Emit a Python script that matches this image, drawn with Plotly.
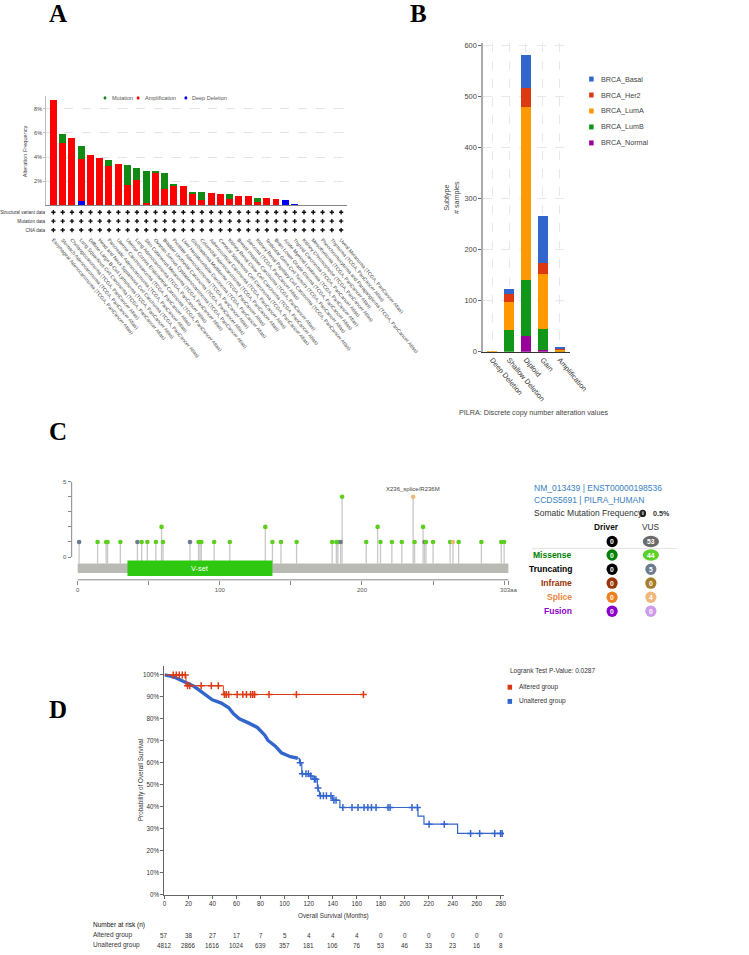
import plotly.graph_objects as go

W, H = 749, 955
FONT = "Liberation Sans, Arial, sans-serif"


def px(x):
    return x / W


def py(y):
    return 1 - y / H


# ---------------- Panel A data ----------------
cancer_types = [
    "Esophageal Adenocarcinoma (TCGA, PanCancer Atlas)",
    "Stomach Adenocarcinoma (TCGA, PanCancer Atlas)",
    "Cholangiocarcinoma (TCGA, PanCancer Atlas)",
    "Lung Squamous Cell Carcinoma (TCGA, PanCancer Atlas)",
    "Diffuse Large B-Cell Lymphoma (TCGA, PanCancer Atlas)",
    "Head and Neck Squamous Cell Carcinoma (TCGA, PanCancer Atlas)",
    "Pancreatic Adenocarcinoma (TCGA, PanCancer Atlas)",
    "Uterine Carcinosarcoma (TCGA, PanCancer Atlas)",
    "Uterine Corpus Endometrial Carcinoma (TCGA, PanCancer Atlas)",
    "Lung Adenocarcinoma (TCGA, PanCancer Atlas)",
    "Skin Cutaneous Melanoma (TCGA, PanCancer Atlas)",
    "Ovarian Serous Cystadenocarcinoma (TCGA, PanCancer Atlas)",
    "Bladder Urothelial Carcinoma (TCGA, PanCancer Atlas)",
    "Prostate Adenocarcinoma (TCGA, PanCancer Atlas)",
    "Liver Hepatocellular Carcinoma (TCGA, PanCancer Atlas)",
    "Glioblastoma Multiforme (TCGA, PanCancer Atlas)",
    "Colorectal Adenocarcinoma (TCGA, PanCancer Atlas)",
    "Adrenocortical Carcinoma (TCGA, PanCancer Atlas)",
    "Cervical Squamous Cell Carcinoma (TCGA, PanCancer Atlas)",
    "Kidney Renal Clear Cell Carcinoma (TCGA, PanCancer Atlas)",
    "Breast Invasive Carcinoma (TCGA, PanCancer Atlas)",
    "Sarcoma (TCGA, PanCancer Atlas)",
    "Kidney Renal Papillary Cell Carcinoma (TCGA, PanCancer Atlas)",
    "Testicular Germ Cell Tumors (TCGA, PanCancer Atlas)",
    "Brain Lower Grade Glioma (TCGA, PanCancer Atlas)",
    "Acute Myeloid Leukemia (TCGA, PanCancer Atlas)",
    "Thyroid Carcinoma (TCGA, PanCancer Atlas)",
    "Kidney Chromophobe (TCGA, PanCancer Atlas)",
    "Mesothelioma (TCGA, PanCancer Atlas)",
    "Pheochromocytoma and Paraganglioma (TCGA, PanCancer Atlas)",
    "Thymoma (TCGA, PanCancer Atlas)",
    "Uveal Melanoma (TCGA, PanCancer Atlas)",
]
deep_deletion = [0, 0, 0, 0.4, 0, 0, 0, 0, 0, 0, 0, 0, 0, 0, 0, 0,
                 0, 0, 0, 0, 0.08, 0, 0, 0, 0, 0.47, 0.17, 0, 0, 0, 0, 0]
amplification = [8.8, 5.2, 5.6, 3.5, 4.2, 4.0, 3.3, 3.5, 1.7, 2.1, 0.2, 2.74, 1.43, 1.62, 1.62, 1.0,
                 0.47, 1.08, 1.0, 0.57, 0.75, 0.77, 0.34, 0.66, 0.57, 0, 0, 0, 0, 0, 0, 0]
mutation = [0, 0.72, 0, 1.06, 0, 0, 0.5, 0, 1.68, 1.05, 2.7, 0.16, 1.25, 0.2, 0, 0.17,
            0.7, 0, 0, 0.37, 0, 0, 0.34, 0, 0, 0, 0, 0, 0, 0, 0, 0]
a_tick_vals = [2, 4, 6, 8]
a_tick_text = ["2%", "4%", "6%", "8%"]
profile_rows = ["CNA data", "Mutation data", "Structural variant data"]

# ---------------- Panel B data ----------------
cna_categories = ["Deep Deletion", "Shallow Deletion", "Diploid", "Gain", "Amplification"]
subtypes = ["BRCA_Normal", "BRCA_LumB", "BRCA_LumA", "BRCA_Her2", "BRCA_Basal"]
subtype_colors = ["#990099", "#109618", "#ff9900", "#dc3912", "#3366cc"]
brca_normal = [0, 0, 31, 4, 0]
brca_lumb = [0, 44, 110, 42, 1]
brca_luma = [1, 53, 338, 107, 3]
brca_her2 = [0, 16, 37, 22, 2]
brca_basal = [0, 11, 65, 92, 2]

# ---------------- Panel C data ----------------
mut_pos = [1, 14, 20, 21, 30, 42, 45, 49, 55, 59, 60, 79, 85, 86, 87, 96, 107, 132, 137, 143,
           154, 179, 182, 183, 185, 186, 203, 211, 213, 221, 228, 236, 237, 243, 244, 245,
           250, 262, 264, 268, 284, 298, 300]
mut_count = [1, 1, 1, 1, 1, 1, 1, 1, 1, 2, 1, 1, 1, 1, 1, 1, 1, 2, 1, 1,
             1, 1, 1, 1, 1, 4, 1, 2, 1, 1, 1, 4, 1, 2, 1, 1,
             1, 1, 1, 1, 1, 1, 1]
mut_type = ["T", "M", "M", "M", "M", "T", "M", "M", "M", "M", "M", "T", "M", "M", "M", "M", "M", "M", "M", "M",
            "M", "M", "M", "M", "T", "M", "M", "M", "M", "M", "M", "S", "M", "M", "T", "M",
            "M", "M", "S", "M", "M", "M", "M"]
type_colors = {"M": "#5ccf1c", "T": "#6e7b8e", "S": "#f0b87b"}
protein_length = 303
domain_name = "V-set"
domain_start = 35
domain_end = 137
c_x_tick_vals = [0, 50, 100, 150, 200, 250, 300, 303]
c_x_tick_text = ["0", "", "100", "", "200", "", "", "303aa"]

mut_rows = ["Missense", "Truncating", "Inframe", "Splice", "Fusion"]
mut_row_colors = ["#008000", "#000000", "#993404", "#e8873a", "#8b00c9"]
driver_counts = [0, 0, 0, 0, 0]
vus_counts = [44, 5, 0, 4, 0]
driver_badge_colors = ["#008000", "#000000", "#993404", "#f07f1e", "#8b00c9"]
vus_badge_colors = ["#5dd12b", "#6e7b8e", "#a67d2a", "#f0b87b", "#cf9be8"]
driver_total = 0
vus_total = 53

# ---------------- Panel D data ----------------
unalt_dense_t = [0, 5, 9.8, 17.3, 24.8, 32.3, 39.8, 47.3, 53.5, 57.3, 62.3, 69.8, 77.3, 83.5, 86,
                 92.3, 97.3, 104.8, 111]
unalt_dense_s = [100, 99.5, 98.6, 96.6, 94.7, 91.7, 88.7, 87.2, 85.1, 82.4, 80.1, 78.2, 76.1, 72.6, 70.3,
                 67.6, 64.6, 62.8, 62.1]
unalt_step_t = [111, 112.3, 114.3, 121.5, 123.5, 127.3, 128, 129, 139.8, 146, 211, 216, 244, 281.8]
unalt_step_s = [62.1, 60.1, 55, 54, 52.6, 48.6, 47.2, 45, 43, 39.7, 35.8, 32.1, 27.9, 27.9]
unalt_censor_t = [113, 114.8, 117.8, 119.8, 121.8, 124.8, 126, 127.8, 129.8, 132.3, 134.8, 138.6,
                  141, 142.8, 148.5, 156.1, 161.1, 166.1, 169.3, 172.3, 176.1, 186.1, 187.8, 206,
                  210.5, 220.3, 232.9, 254.8, 262.4, 274.9, 279.8, 281.1]
alt_step_t = [0, 17.9, 49, 165.6]
alt_step_s = [100, 95.1, 91.1, 91.1]
alt_censor_t = [7.3, 9.8, 12.3, 14.8, 17.3, 19.2, 21.0, 30.5, 39.0, 44.8, 49.9, 51.4, 53.4, 60.5,
                65.2, 68.2, 71.7, 73.5, 75, 87, 109.8, 165.6]
risk_times = [0, 20, 40, 60, 80, 100, 120, 140, 160, 180, 200, 220, 240, 260, 280]
risk_altered = [57, 38, 27, 17, 7, 5, 4, 4, 4, 0, 0, 0, 0, 0, 0]
risk_unaltered = [4812, 2866, 1616, 1024, 639, 357, 181, 106, 76, 53, 46, 33, 23, 16, 8]
surv_tick_vals = [0, 10, 20, 30, 40, 50, 60, 70, 80, 90, 100]
surv_tick_text = ["0%", "10%", "20%", "30%", "40%", "50%", "60%", "70%", "80%", "90%", "100%"]
logrank_p = "0.0287"


def step_value(t, ts, ss):
    v = ss[0]
    for tt, s in zip(ts, ss):
        if tt <= t:
            v = s
    return v


fig = go.Figure()
annotations = []
shapes = []


def note(text, x, y, size, color="#333", xanchor="center", yanchor="middle", xref="paper", yref="paper",
         family=FONT, angle=0, **kw):
    if xref == "paper":
        x = px(x)
    if yref == "paper":
        y = py(y)
    annotations.append(dict(text=text, x=x, y=y, xref=xref, yref=yref, xanchor=xanchor, yanchor=yanchor,
                            showarrow=False, textangle=angle, font=dict(size=size, color=color, family=family),
                            **kw))


# ---------------- Panel A ----------------
idx = list(range(len(cancer_types)))
for vals, col in [(deep_deletion, "#0000ff"), (amplification, "#ff0000"), (mutation, "#138a13")]:
    fig.add_trace(go.Bar(x=idx, y=vals, marker=dict(color=col, line=dict(width=0)),
                         xaxis="x", yaxis="y", showlegend=False, width=0.75))
mx, my = [], []
for r in range(len(profile_rows)):
    for i in idx:
        mx.append(i)
        my.append(r)
fig.add_trace(go.Scatter(x=mx, y=my, mode="markers", xaxis="x2", yaxis="y2", showlegend=False,
                         marker=dict(symbol="cross", size=3.6, color="#111")))

note("Alteration Frequency", 25, 150, 5.6, "#444", angle=-90)
for lx, lab, col in [(114.3, "Mutation", "#138a13"), (151, "Amplification", "#ff0000"),
                     (204, "Deep Deletion", "#0000ff")]:
    shapes.append(dict(type="circle", xref="paper", yref="paper", x0=px(lx - 1.6), x1=px(lx + 1.6),
                       y0=py(95.7 + 1.6), y1=py(95.7 - 1.6), fillcolor=col, line=dict(width=0)))
    note(lab, lx + 5, 95.7, 5.5, "#555", xanchor="left")

# ---------------- Panel B ----------------
b_idx = list(range(len(cna_categories)))
for vals, col in zip([brca_normal, brca_lumb, brca_luma, brca_her2, brca_basal], subtype_colors):
    fig.add_trace(go.Bar(x=b_idx, y=vals, marker=dict(color=col, line=dict(width=0)), width=0.59,
                         xaxis="x3", yaxis="y3", showlegend=False))
legend_b = list(zip(subtypes, subtype_colors))[::-1]
for k, (name, col) in enumerate(legend_b):
    yy = 76.7 + 16.1 * k
    shapes.append(dict(type="rect", xref="paper", yref="paper", x0=px(651.5), x1=px(656.5),
                       y0=py(yy + 2.5), y1=py(yy - 2.5), fillcolor=col, line=dict(width=0)))
    note(name, 662.5, yy, 7.2, "#444", xanchor="left")
note("Subtype<br># samples", 499, 196, 7.2, "#444", angle=-90)
note("PILRA: Discrete copy number alteration values", 590, 413, 7.2, "#444")

# ---------------- Panel C ----------------
bar_top = -0.43
sx, sy = [], []
for p, c in zip(mut_pos, mut_count):
    sx += [p, p, None]
    sy += [bar_top, c, None]
fig.add_trace(go.Scatter(x=sx, y=sy, mode="lines", line=dict(color="#c8c8c8", width=1.3),
                         xaxis="x4", yaxis="y4", showlegend=False, hoverinfo="skip"))
fig.add_trace(go.Scatter(x=mut_pos, y=mut_count, mode="markers", xaxis="x4", yaxis="y4", showlegend=False,
                         marker=dict(size=4.6, color=[type_colors[t] for t in mut_type], line=dict(width=0))))
shapes.append(dict(type="rect", xref="x4", yref="y4", x0=0, x1=protein_length, y0=-1.05, y1=bar_top,
                   fillcolor="#babab5", line=dict(width=0), layer="above"))
shapes.append(dict(type="rect", xref="x4", yref="y4", x0=domain_start, x1=domain_end, y0=-1.25, y1=-0.22,
                   fillcolor="#2ec811", line=dict(width=0), layer="above"))
note(domain_name, (domain_start + domain_end) / 2, -0.74, 7.4, "white", xref="x4", yref="y4")
shapes.append(dict(type="line", xref="x4 domain", yref="y4", x0=0, x1=0, y0=0, y1=5,
                   line=dict(color="#888", width=1)))
shapes.append(dict(type="line", xref="x4", yref="y4 domain", x0=0, x1=protein_length, y0=0, y1=0,
                   line=dict(color="#888", width=1)))
splice_i = mut_pos.index(236)
note("X236_splice/R236M", 236, mut_count[splice_i], 6, "#444", yanchor="bottom", xref="x4", yref="y4",
     yshift=3)

blue_txt = "#3a80bf"
note("NM_013439 | ENST00000198536", 588, 489, 8.5, blue_txt, xanchor="left")
note("CCDS5691 | PILRA_HUMAN", 588, 501.7, 8.5, blue_txt, xanchor="left")
note("Somatic Mutation Frequency", 588, 514.7, 8.5, "#333", xanchor="left")
shapes.append(dict(type="circle", xref="paper", yref="paper", x0=px(707.3), x1=px(714.7),
                   y0=py(518.4), y1=py(511), fillcolor="#222", line=dict(width=0)))
note("<b>i</b>", 711, 514.7, 6, "white")
note("<b>0.5%</b>", 732, 514.7, 7.2, "#333")
note("<b>Driver</b>", 671, 528.7, 8.3, "#111")
note("VUS", 719.7, 528.7, 8.3, "#333")
shapes.append(dict(type="line", xref="paper", yref="paper", x0=px(588), x1=px(749), y0=py(550), y1=py(550),
                   line=dict(color="#e2e2e2", width=1)))


def badge(cx, cy, value, color, text_color="white"):
    wdt = 6.2 if value < 10 else 9.0
    shapes.append(dict(type="circle", xref="paper", yref="paper", x0=px(cx - wdt), x1=px(cx + wdt),
                       y0=py(cy + 5.8), y1=py(cy - 5.8), fillcolor=color, line=dict(width=0)))
    note("<b>%d</b>" % value, cx, cy, 6.8, text_color)


badge(677, 543, driver_total, "#000000")
badge(720, 543, vus_total, "#6b6b6b")
row_y = [556.7, 571, 585, 599.3, 613.3]
for k, name in enumerate(mut_rows):
    note("<b>%s</b>" % name, 635, row_y[k], 8.5, mut_row_colors[k], xanchor="right")
    badge(677, row_y[k], driver_counts[k], driver_badge_colors[k])
    badge(720, row_y[k], vus_counts[k], vus_badge_colors[k])

# ---------------- Panel D ----------------
fig.add_trace(go.Scatter(x=unalt_dense_t, y=unalt_dense_s, mode="lines", xaxis="x5", yaxis="y5",
                         line=dict(color="#3366cc", width=3.4), showlegend=False))
fig.add_trace(go.Scatter(x=unalt_step_t, y=unalt_step_s, mode="lines", line_shape="hv", xaxis="x5", yaxis="y5",
                         line=dict(color="#3366cc", width=1.2), showlegend=False))
fig.add_trace(go.Scatter(x=unalt_censor_t, y=[step_value(t, unalt_step_t, unalt_step_s) for t in unalt_censor_t],
                         mode="markers", xaxis="x5", yaxis="y5", showlegend=False,
                         marker=dict(symbol="cross-thin", size=5, line=dict(color="#3366cc", width=1.5))))
fig.add_trace(go.Scatter(x=alt_step_t, y=alt_step_s, mode="lines", line_shape="hv", xaxis="x5", yaxis="y5",
                         line=dict(color="#dc3912", width=1), showlegend=False))
fig.add_trace(go.Scatter(x=alt_censor_t, y=[step_value(t, alt_step_t, alt_step_s) for t in alt_censor_t],
                         mode="markers", xaxis="x5", yaxis="y5", showlegend=False,
                         marker=dict(symbol="cross-thin", size=5, line=dict(color="#dc3912", width=1.5))))

note("Logrank Test P-Value: " + logrank_p, 561.7, 673.3, 6.5, "#333", xanchor="left")
for k, (name, col) in enumerate([("Altered group", "#dc3912"), ("Unaltered group", "#3366cc")]):
    yy = 690 + 14.3 * k
    shapes.append(dict(type="rect", xref="paper", yref="paper", x0=px(561), x1=px(566),
                       y0=py(yy + 2.5), y1=py(yy - 2.5), fillcolor=col, line=dict(width=0)))
    note(name, 571.7, yy, 6.5, "#333", xanchor="left")
note("Probability of Overall Survival", 155, 784, 6.3, "#333", angle=-90)
note("Overall Survival (Months)", 368, 920.7, 6.3, "#333")
note("Number at risk (n)", 99, 930, 6.5, "#111", xanchor="left")
for lab, vals, yy in [("Altered group", risk_altered, 940), ("Unaltered group", risk_unaltered, 950)]:
    note(lab, 99, yy, 6.5, "#333", xanchor="left")
    for t, v in zip(risk_times, vals):
        note(str(v), t, yy, 6.3, "#333", xref="x5")

# ---------------- Panel letters ----------------
for letter, lx, ly in [("A", 62, 11), ("B", 462, 11), ("C", 62, 432), ("D", 62, 712)]:
    note("<b>%s</b>" % letter, lx, ly, 25, "black", family="Liberation Serif, serif")

tickfont_small = dict(size=5.5, color="#444", family=FONT)
fig.update_layout(
    width=W, height=H, margin=dict(l=0, r=0, t=0, b=0),
    paper_bgcolor="white", plot_bgcolor="rgba(0,0,0,0)", barmode="stack", bargap=0,
    font=dict(family=FONT),
    xaxis=dict(domain=[px(49), px(383)], range=[-0.78, 31.65], anchor="y", showticklabels=False, ticks="",
               showgrid=False, zeroline=False, showline=True, linecolor="#888", linewidth=1),
    yaxis=dict(domain=[py(204), py(93.3)], range=[0, 9.1], anchor="x", tickvals=a_tick_vals,
               ticktext=a_tick_text, tickfont=tickfont_small, showgrid=True, gridcolor="#e3e3e3",
               griddash="dash", gridwidth=0.8, zeroline=False, showline=True, linecolor="#bbb",
               ticks="outside", ticklen=2, tickcolor="#bbb"),
    xaxis2=dict(domain=[px(49), px(383)], range=[-0.78, 31.65], anchor="y2", tickvals=idx,
                ticktext=cancer_types, tickangle=50, tickfont=dict(size=5, color="#444", family=FONT),
                showgrid=False, zeroline=False, showline=False, ticks=""),
    yaxis2=dict(domain=[py(234), py(206)], range=[-0.56, 2.56], anchor="x2", tickvals=[0, 1, 2],
                ticktext=profile_rows, tickfont=dict(size=4.6, color="#333", family=FONT),
                showgrid=False, zeroline=False, showline=False, ticks=""),
    xaxis3=dict(domain=[px(534), px(630)], range=[-0.53, 4.59], anchor="y3", tickvals=b_idx,
                ticktext=cna_categories, tickangle=50, tickfont=dict(size=7.3, color="#333", family=FONT),
                showgrid=True, gridcolor="#e8e8e8", griddash="dash", zeroline=False, showline=True,
                linecolor="#333", linewidth=1, ticks=""),
    yaxis3=dict(domain=[py(351.7), py(40.1)], range=[0, 605], anchor="x3", tickvals=[0, 100, 200, 300, 400, 500, 600],
                tickfont=dict(size=7.4, color="#444", family=FONT), showgrid=True, gridcolor="#e8e8e8",
                griddash="dash", zeroline=False, showline=True, linecolor="#aaa", linewidth=2,
                ticks="outside", ticklen=3, tickcolor="#666"),
    xaxis4=dict(domain=[px(77.3), px(566)], range=[-4.25, 305.6], anchor="y4", tickvals=c_x_tick_vals,
                ticktext=c_x_tick_text, tickfont=dict(size=6, color="#555", family=FONT), showgrid=False,
                zeroline=False, showline=False, ticks="outside", ticklen=4, tickcolor="#888"),
    yaxis4=dict(domain=[py(581.7), py(482.7)], range=[-1.51, 5], anchor="x4", tickvals=[0, 1, 2, 3, 4, 5],
                ticktext=["0", "", "", "", "", "5"], tickfont=dict(size=6, color="#555", family=FONT),
                showgrid=False, zeroline=False, showline=False, ticks="outside", ticklen=3, tickcolor="#888"),
    xaxis5=dict(domain=[px(180.3), px(557)], range=[0, 282.6], anchor="y5", tickvals=risk_times,
                tickfont=dict(size=6.3, color="#333", family=FONT), showgrid=False, zeroline=False,
                showline=True, linecolor="#666", ticks="outside", ticklen=3, tickcolor="#666"),
    yaxis5=dict(domain=[py(899.3), py(668.3)], range=[0, 104.2], anchor="x5",
                tickvals=surv_tick_vals, ticktext=surv_tick_text,
                tickfont=dict(size=6.3, color="#333", family=FONT), showgrid=False, zeroline=False,
                showline=True, linecolor="#666", ticks="outside", ticklen=3, tickcolor="#666"),
    annotations=annotations, shapes=shapes,
)

fig.write_html("out.html")
